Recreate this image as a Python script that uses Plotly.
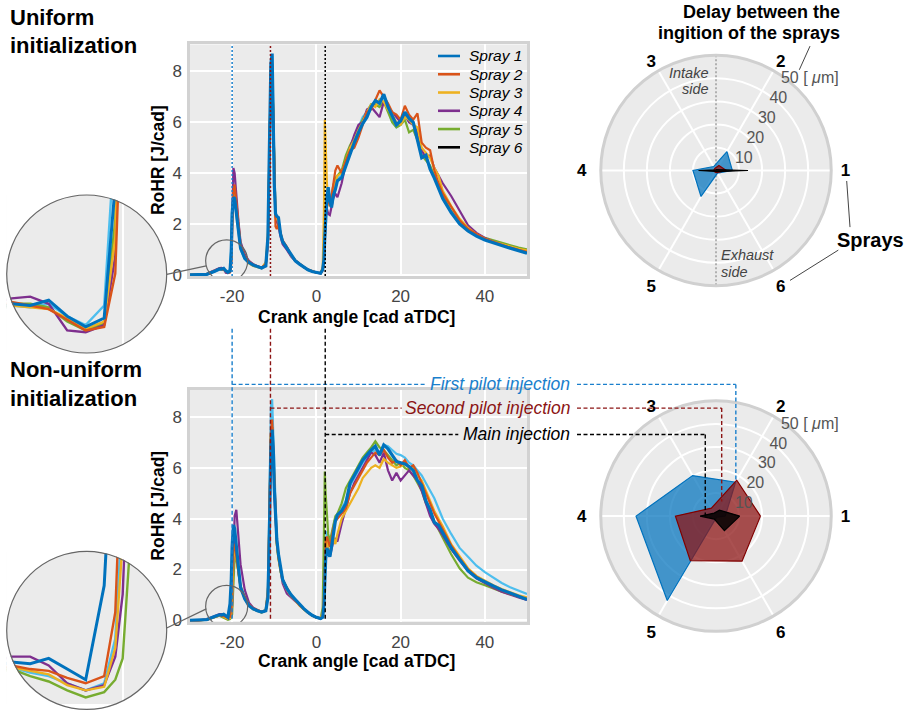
import numpy as np
import plotly.graph_objects as go

W, H = 912, 713
FONT = "Liberation Sans, Arial, Helvetica, sans-serif"

# ---------------- data ----------------
crank_angle = [
    -30, -28, -26, -24, -23, -22.5, -22, -21.5, -21, -20.5,
    -20.2, -20, -19.7, -19.4, -19, -18.5, -18, -17, -16, -15,
    -14, -13, -12, -11.5, -11.2, -11, -10.8, -10.5, -10.2, -10,
    -9.7, -9.4, -9, -8.5, -8, -7, -6, -5, -4, -3,
    -2, -1, 0, 1, 1.5, 1.8, 2, 2.2, 2.5, 2.8,
    3.2, 3.6, 4, 4.5, 5, 6, 7, 8, 9, 10,
    11, 12, 13, 14, 15, 16, 17, 18, 19, 20,
    21, 22, 23, 24, 25, 26, 27, 28, 29, 30,
    32, 34, 36, 38, 40, 42, 44, 46, 48, 50,
]

# Uniform initialization, RoHR [J/cad]
uni_spray1 = [
    0.0, 0.0, 0.02, 0.15, 0.23, 0.22, 0.25, 0.16, 0.10, 0.15,
    0.9, 2.4, 3.05, 3.0, 2.5, 1.8, 1.05, 0.65, 0.48, 0.38,
    0.32, 0.27, 0.35, 1.5, 4.5, 6.8, 8.3, 8.7, 5.2, 3.6,
    2.4, 2.3, 2.25, 1.6, 1.3, 1.05, 0.75, 0.55, 0.42, 0.3,
    0.2, 0.13, 0.08, 0.06, 0.2, 0.6, 1.5, 2.4, 3.0, 3.45,
    2.9, 2.65, 3.1, 3.35, 3.7, 3.82, 4.3, 4.7, 5.2, 5.6,
    5.95, 6.2, 6.6, 6.85, 6.75, 7.1, 6.6, 6.25, 5.9, 6.05,
    6.4, 6.15, 6.0, 5.3, 4.6, 4.7, 4.15, 3.8, 3.4, 3.0,
    2.45, 2.0, 1.72, 1.52, 1.37, 1.25, 1.15, 1.05, 0.95, 0.85,
]
uni_spray2 = [
    0.0, 0.0, 0.03, 0.17, 0.24, 0.22, 0.2, 0.14, 0.08, 0.1,
    0.4, 1.6, 3.3, 3.55, 2.9, 2.0, 1.2, 0.72, 0.52, 0.4,
    0.33, 0.28, 0.42, 1.3, 4.3, 6.8, 8.1, 8.3, 5.5, 3.3,
    1.9, 1.8, 2.0, 1.65, 1.35, 1.1, 0.78, 0.57, 0.43, 0.31,
    0.21, 0.14, 0.09, 0.07, 0.18, 0.5, 1.4, 2.6, 3.2, 3.0,
    2.7, 3.1, 3.6, 4.1, 4.3, 4.0, 4.5, 4.9, 5.0, 5.4,
    5.9, 6.4, 6.5, 6.9, 7.25, 7.0, 6.75, 6.4, 6.3, 6.1,
    6.65, 6.3, 6.1, 6.35, 5.2, 5.0, 4.9, 4.1, 3.6, 3.2,
    2.65, 2.15, 1.8, 1.6, 1.42, 1.3, 1.18, 1.07, 0.98, 0.9,
]
uni_spray3 = [
    0.0, 0.0, 0.03, 0.16, 0.22, 0.21, 0.2, 0.15, 0.09, 0.13,
    0.6, 2.0, 3.1, 3.2, 2.6, 1.9, 1.15, 0.68, 0.45, 0.35,
    0.3, 0.26, 0.5, 1.6, 4.6, 7.0, 8.0, 8.2, 5.8, 3.6,
    2.3, 2.2, 2.1, 1.6, 1.3, 1.08, 0.76, 0.56, 0.42, 0.3,
    0.2, 0.14, 0.09, 0.08, 0.3, 2.5, 6.1, 5.2, 3.6, 3.0,
    2.7, 3.0, 3.4, 3.6, 3.9, 4.0, 4.5, 5.0, 5.3, 5.7,
    6.0, 6.4, 6.7, 6.6, 6.9, 6.8, 6.5, 6.3, 6.0, 5.9,
    6.2, 6.1, 5.9, 5.8, 5.0, 4.8, 4.6, 4.2, 3.9, 3.3,
    2.7, 2.2, 1.85, 1.6, 1.42, 1.3, 1.2, 1.1, 1.02, 0.96,
]
uni_spray4 = [
    0.0, 0.0, 0.04, 0.2, 0.26, 0.27, 0.23, 0.08, 0.07, 0.11,
    0.5, 2.2, 4.2, 4.0, 3.1, 2.1, 1.3, 0.8, 0.55, 0.42,
    0.34, 0.28, 0.4, 1.2, 4.0, 6.5, 7.9, 8.1, 5.6, 3.5,
    2.3, 2.1, 1.9, 1.5, 1.2, 0.98, 0.72, 0.55, 0.42, 0.3,
    0.2, 0.13, 0.08, 0.06, 0.2, 0.6, 1.4, 2.3, 2.6, 2.4,
    2.35, 2.7, 3.0, 3.2, 3.05, 3.6, 4.4, 5.0, 5.5, 5.9,
    6.0, 6.5, 6.6, 6.4, 6.2, 6.8, 6.6, 6.4, 6.2, 6.0,
    6.3, 6.0, 5.9, 5.6, 4.9, 4.6, 4.7, 4.2, 3.9, 3.6,
    3.1, 2.55, 1.95, 1.65, 1.45, 1.3, 1.18, 1.06, 0.96, 0.88,
]
uni_spray5 = [
    0.0, 0.0, 0.03, 0.17, 0.23, 0.23, 0.21, 0.13, 0.08, 0.12,
    0.7, 2.3, 3.2, 3.1, 2.5, 1.8, 1.1, 0.7, 0.5, 0.38,
    0.31, 0.27, 0.45, 1.4, 4.2, 6.6, 8.0, 8.3, 5.7, 3.5,
    2.3, 2.2, 2.1, 1.6, 1.3, 1.05, 0.76, 0.56, 0.42, 0.3,
    0.2, 0.13, 0.08, 0.07, 0.22, 0.8, 1.8, 2.6, 3.1, 3.0,
    2.8, 3.1, 3.5, 3.8, 3.9, 4.1, 4.7, 5.1, 5.4, 5.8,
    6.1, 6.4, 6.7, 6.7, 6.6, 6.8, 6.4, 6.0, 5.8, 5.9,
    6.1, 5.6, 5.7, 5.3, 4.7, 4.5, 4.3, 3.9, 3.5, 3.1,
    2.5, 2.05, 1.78, 1.58, 1.45, 1.35, 1.25, 1.15, 1.07, 1.0,
]
uni_spray6 = [
    0.0, 0.0, 0.02, 0.14, 0.22, 0.21, 0.23, 0.16, 0.11, 0.22,
    1.2, 2.6, 3.1, 2.9, 2.4, 1.7, 1.0, 0.62, 0.46, 0.36,
    0.3, 0.26, 0.42, 1.3, 4.2, 6.7, 8.3, 8.6, 5.9, 3.7,
    2.4, 2.25, 2.2, 1.6, 1.3, 1.05, 0.75, 0.55, 0.41, 0.3,
    0.2, 0.13, 0.08, 0.06, 0.2, 0.7, 1.6, 2.5, 3.1, 3.3,
    3.0, 2.8, 3.2, 3.5, 3.8, 3.9, 4.5, 4.9, 5.4, 5.8,
    6.2, 6.4, 6.7, 6.8, 6.7, 7.0, 6.5, 6.0, 5.8, 5.9,
    6.3, 6.0, 5.9, 5.4, 4.7, 4.6, 4.2, 3.85, 3.45, 3.05,
    2.5, 2.05, 1.75, 1.55, 1.4, 1.27, 1.17, 1.07, 0.97, 0.88,
]

# Non-uniform initialization, RoHR [J/cad]
non_spray1 = [
    0.0, 0.0, 0.03, 0.16, 0.22, 0.21, 0.24, 0.18, 0.12, 0.65,
    1.6, 2.9, 3.75, 3.6, 2.8, 2.1, 1.3, 0.85, 0.58, 0.45,
    0.38, 0.33, 0.38, 0.9, 3.0, 5.2, 6.8, 7.5, 6.6, 5.2,
    4.2, 3.2, 2.6, 2.0, 1.6, 1.25, 1.0, 0.82, 0.62, 0.46,
    0.32, 0.2, 0.12, 0.07, 0.12, 0.6, 1.5, 2.4, 2.85, 2.65,
    2.5, 2.9, 3.4, 3.9, 4.15, 4.3, 4.6, 5.4, 5.7, 6.0,
    6.3, 6.5, 6.7, 6.85, 6.5, 6.9, 6.75, 6.5, 6.25, 6.2,
    6.15, 6.05, 5.9, 5.5, 5.3, 4.7, 4.35, 3.85, 3.75, 3.45,
    2.85, 2.4, 1.95, 1.68, 1.5, 1.35, 1.2, 1.07, 0.93, 0.82,
]
non_spray2 = [
    0.0, 0.0, 0.03, 0.15, 0.2, 0.18, 0.17, 0.13, 0.1, 0.14,
    0.5, 1.6, 2.9, 3.0, 2.5, 1.9, 1.3, 0.9, 0.62, 0.48,
    0.4, 0.34, 0.4, 1.1, 3.5, 5.8, 7.4, 7.9, 6.6, 5.0,
    4.0, 3.1, 2.5, 1.95, 1.6, 1.25, 0.98, 0.8, 0.6, 0.45,
    0.31, 0.2, 0.12, 0.08, 0.14, 0.8, 2.0, 3.1, 3.3, 3.1,
    2.9, 3.2, 3.6, 3.9, 4.0, 4.2, 4.4, 5.0, 5.3, 5.6,
    5.9, 6.2, 6.4, 6.6, 6.5, 6.7, 6.4, 6.2, 6.3, 6.1,
    6.3, 6.0, 6.1, 5.8, 5.4, 5.0, 4.6, 4.2, 3.9, 3.6,
    2.95, 2.45, 2.0, 1.72, 1.5, 1.32, 1.17, 1.04, 0.93, 0.84,
]
non_spray3 = [
    0.0, 0.0, 0.02, 0.14, 0.19, 0.17, 0.15, 0.09, 0.06, 0.08,
    0.3, 0.9, 2.4, 2.9, 2.5, 1.9, 1.35, 0.9, 0.6, 0.45,
    0.37, 0.32, 0.42, 1.2, 3.8, 6.0, 7.3, 7.6, 6.4, 4.9,
    3.9, 3.0, 2.4, 1.9, 1.55, 1.2, 0.95, 0.78, 0.58, 0.43,
    0.3, 0.19, 0.11, 0.08, 0.3, 1.2, 2.2, 2.8, 3.2, 2.9,
    2.6, 2.9, 3.3, 3.0, 3.4, 4.0, 4.3, 4.6, 4.9, 5.2,
    5.6, 5.8, 6.0, 6.1, 6.0, 6.35, 6.2, 6.1, 6.0, 6.05,
    6.2, 6.0, 6.0, 5.7, 5.5, 5.1, 4.7, 4.3, 4.0, 3.7,
    3.0, 2.5, 2.05, 1.75, 1.55, 1.38, 1.23, 1.1, 0.99, 0.9,
]
non_spray4 = [
    0.0, 0.0, 0.04, 0.19, 0.25, 0.25, 0.2, 0.1, 0.06, 0.09,
    0.25, 0.6, 2.2, 4.1, 4.35, 3.3, 2.2, 1.2, 0.7, 0.5,
    0.4, 0.34, 0.38, 1.0, 3.3, 5.6, 7.1, 7.6, 6.5, 5.0,
    4.0, 3.1, 2.5, 1.9, 1.45, 1.05, 0.9, 0.76, 0.58, 0.44,
    0.3, 0.19, 0.11, 0.07, 0.15, 0.8, 1.8, 2.6, 2.9, 2.7,
    2.5, 2.8, 3.1, 3.2, 3.1, 3.8, 4.4, 5.0, 5.4, 5.7,
    6.0, 6.3, 6.6, 6.5, 6.2, 6.6, 5.9, 5.5, 5.8, 5.5,
    5.7, 5.9, 5.7, 5.5, 5.1, 4.6, 4.1, 3.8, 3.6, 3.35,
    2.8, 2.35, 1.95, 1.65, 1.45, 1.28, 1.13, 1.0, 0.9, 0.8,
]
non_spray5 = [
    0.0, 0.0, 0.03, 0.13, 0.18, 0.14, 0.11, 0.06, 0.02, 0.05,
    0.12, 0.24, 1.2, 2.5, 2.4, 1.8, 1.3, 0.85, 0.58, 0.44,
    0.36, 0.31, 0.38, 1.0, 3.4, 5.7, 7.2, 7.6, 6.4, 5.0,
    3.9, 3.0, 2.45, 1.9, 1.6, 1.3, 1.0, 0.8, 0.6, 0.44,
    0.3, 0.19, 0.11, 0.08, 0.5, 3.5, 5.85, 5.0, 4.0, 3.4,
    3.1, 3.4, 3.8, 4.1, 4.2, 4.6, 5.2, 5.5, 5.8, 6.1,
    6.4, 6.6, 6.8, 7.05, 6.8, 6.7, 6.5, 6.3, 6.1, 6.2,
    6.0, 5.9, 5.7, 5.4, 5.1, 4.6, 4.3, 3.9, 3.6, 3.25,
    2.6, 2.05, 1.68, 1.5, 1.38, 1.25, 1.13, 1.03, 0.93, 0.86,
]
non_spray6 = [
    0.0, 0.0, 0.03, 0.14, 0.19, 0.16, 0.14, 0.1, 0.06, 0.1,
    0.35, 1.1, 2.6, 3.1, 2.6, 1.95, 1.35, 0.9, 0.62, 0.47,
    0.39, 0.33, 0.42, 1.3, 4.3, 7.0, 8.4, 8.7, 7.2, 5.4,
    4.2, 3.2, 2.6, 2.0, 1.62, 1.27, 1.0, 0.82, 0.62, 0.46,
    0.32, 0.2, 0.12, 0.08, 0.2, 1.0, 2.0, 2.9, 3.5, 3.3,
    3.0, 3.3, 3.7, 4.0, 4.2, 4.4, 4.7, 5.3, 5.6, 5.9,
    6.2, 6.4, 6.6, 6.7, 6.6, 6.9, 6.85, 6.7, 6.55, 6.5,
    6.4, 6.2, 6.1, 5.9, 5.7, 5.4, 5.1, 4.8, 4.4, 4.0,
    3.4, 2.85, 2.5, 2.15, 1.9, 1.67, 1.47, 1.3, 1.17, 1.04,
]

spray_names = ["Spray 1", "Spray 2", "Spray 3", "Spray 4", "Spray 5", "Spray 6"]
line_colors = ["#0072BD", "#D95319", "#EDB120", "#7E2F8E", "#77AC30", "#4DBEEE"]
legend_colors = ["#0072BD", "#D95319", "#EDB120", "#7E2F8E", "#77AC30", "#000000"]

x_tick_vals = [-20, 0, 20, 40]
x_tick_text = ["-20", "0", "20", "40"]
y_tick_vals = [0, 2, 4, 6, 8]

# Delay between the ignition of the sprays [um]
spray_labels = ["1", "2", "3", "4", "5", "6"]
spray_theta = [0, 60, 120, 180, 240, 300]
radial_ticks = [10, 20, 30, 40, 50]
radial_ticktext = ["10", "20", "30", "40", "50 [ <i>\u03bc</i>m]"]

uni_delay_first = [7.1, 9.5, 2.0, 10.0, 13.0, 1.3]
uni_delay_second = [4.5, 2.5, 1.0, 1.0, 0.8, 1.0]
uni_delay_main = [13.9, 0.5, 0.3, 7.6, 0.5, 0.6]
non_delay_first = [4.0, 17.0, 20.3, 34.7, 42.3, 0.5]
non_delay_second = [19.3, 18.0, 4.0, 17.6, 22.3, 22.6]
non_delay_main = [10.3, 3.0, 1.5, 6.9, 1.5, 7.3]

injection_names = ["First pilot injection", "Second pilot injection", "Main injection"]
injection_cad = [-20.0, -10.9, 2.1]
injection_colors = ["#1a7fcc", "#8c1414", "#000000"]
injection_fill = ["rgba(0,114,189,0.72)", "rgba(140,20,20,0.74)", "rgba(0,0,0,0.85)"]
injection_edge = ["#0072BD", "#800000", "#000000"]
connector_target_r = [17.0, 6.8, 4.6]
connector_target_theta = [60, 69, 180]

# ---------------- geometry (layout, px) ----------------
def fx(p):
    return p / W


def fy(p):
    return 1 - p / H


PLOT_L, PLOT_R = 190, 527
TOP_T, TOP_B = 45, 279.6
BOT_T, BOT_B = 395, 629.6
X_RANGE = [-30, 50]
Y_RANGE = [-0.05, 9.06]


def cad_px(c):
    return PLOT_L + (c - X_RANGE[0]) / (X_RANGE[1] - X_RANGE[0]) * (PLOT_R - PLOT_L)


def val_py(v, top, bot):
    return bot - (v - Y_RANGE[0]) / (Y_RANGE[1] - Y_RANGE[0]) * (bot - top)


POL_CX, POL_R = 716, 116.7
TOP_CY, BOT_CY = 172.7, 522.7
R_MAX = 50


def polar_px(r, th, cy):
    a = np.deg2rad(th)
    return POL_CX + r / R_MAX * POL_R * np.cos(a), cy - r / R_MAX * POL_R * np.sin(a)


INS_CX, INS_R = 86.7, 80
TOP_INS_CY, BOT_INS_CY = 277.5, 638.5
INSET_X_RANGE = [-23.135, -18.81]
TOP_INSET_Y_RANGE = [-0.047, 0.842]
BOT_INSET_Y_RANGE = [-0.0167, 0.842]

fig = go.Figure()

uni = [uni_spray1, uni_spray2, uni_spray3, uni_spray4, uni_spray5, uni_spray6]
non = [non_spray1, non_spray2, non_spray3, non_spray4, non_spray5, non_spray6]
order = [5, 4, 3, 2, 1, 0]
for series, xa, ya, w0, w in [(uni, "x", "y", 3.2, 2.2), (non, "x2", "y2", 3.2, 2.2),
                              (uni, "x3", "y3", 3.0, 2.4), (non, "x4", "y4", 3.0, 2.4)]:
    for i in order:
        fig.add_trace(go.Scatter(
            x=crank_angle, y=series[i], xaxis=xa, yaxis=ya, mode="lines",
            line=dict(color=line_colors[i], width=w0 if i == 0 else w),
            name=spray_names[i], showlegend=False, hoverinfo="skip"))

# polar charts
theta_closed = spray_theta + [spray_theta[0]]
fig.add_trace(go.Scatterpolar(r=[R_MAX, 0, R_MAX], theta=[90, 0, 270], subplot="polar",
                              mode="lines", line=dict(color="#888888", width=1.2, dash="2px,2px"),
                              showlegend=False, hoverinfo="skip"))
for sub, sets in [("polar", [uni_delay_first, uni_delay_second, uni_delay_main]),
                  ("polar2", [non_delay_first, non_delay_second, non_delay_main])]:
    for k, vals in enumerate(sets):
        fig.add_trace(go.Scatterpolar(
            r=vals + [vals[0]], theta=theta_closed, subplot=sub, mode="lines",
            fill="toself", fillcolor=injection_fill[k],
            line=dict(color=injection_edge[k], width=1.2),
            name=injection_names[k], showlegend=False, hoverinfo="skip"))

tick_font = dict(family=FONT, size=17, color="#444444")
axis_common = dict(range=X_RANGE, tickmode="array", tickvals=x_tick_vals, ticktext=x_tick_text,
                   showgrid=True, gridcolor="white", gridwidth=2, zeroline=False,
                   showline=True, mirror=True, linecolor="#d2d2d2", linewidth=2.5,
                   ticks="outside", ticklen=3, tickcolor="rgba(0,0,0,0)", tickfont=tick_font)
yaxis_common = dict(range=Y_RANGE, tickmode="array", tickvals=y_tick_vals,
                    showgrid=True, gridcolor="white", gridwidth=2, zeroline=False,
                    showline=True, mirror=True, linecolor="#d2d2d2", linewidth=2.5,
                    ticks="outside", ticklen=2, tickcolor="rgba(0,0,0,0)", tickfont=tick_font)
inset_x = dict(range=INSET_X_RANGE, tickmode="array", tickvals=[-20], showticklabels=False,
               showgrid=True, gridcolor="white", gridwidth=2, zeroline=False, showline=False, ticks="")
inset_y = dict(showticklabels=False, showgrid=False, zeroline=False, showline=False, ticks="")

NB = "\u00a0"
angular_text = ["<b>%s%s</b>" % (NB, spray_labels[0]), "<b>%s</b>" % spray_labels[1],
                "<b>%s</b>" % spray_labels[2], "<b>%s%s</b>" % (spray_labels[3], NB * 2),
                "<b>%s</b>" % spray_labels[4], "<b>%s</b>" % spray_labels[5]]


def polar_layout(cy):
    return dict(
        domain=dict(x=[fx(POL_CX - POL_R), fx(POL_CX + POL_R)], y=[fy(cy + POL_R), fy(cy - POL_R)]),
        bgcolor="#ebebeb",
        angularaxis=dict(rotation=0, direction="counterclockwise", tickmode="array",
                         tickvals=spray_theta, ticktext=angular_text,
                         showgrid=True, gridcolor="white", gridwidth=2,
                         showline=True, linecolor="#d0d0d0", linewidth=3, ticks="",
                         tickfont=dict(family=FONT, size=17, color="black")),
        radialaxis=dict(range=[0, R_MAX], tickmode="array", tickvals=radial_ticks,
                        ticktext=radial_ticktext, angle=60, tickangle=60, showline=False,
                        showgrid=True, gridcolor="white", gridwidth=2, ticks="",
                        tickfont=dict(family=FONT, size=16, color="#555555")),
    )


fig.update_layout(
    width=W, height=H, margin=dict(l=0, r=0, t=0, b=0),
    paper_bgcolor="white", plot_bgcolor="#ebebeb", showlegend=False, hovermode=False,
    font=dict(family=FONT),
    xaxis=dict(domain=[fx(PLOT_L), fx(PLOT_R)], anchor="y", **axis_common),
    yaxis=dict(domain=[fy(TOP_B), fy(TOP_T)], anchor="x", **yaxis_common),
    xaxis2=dict(domain=[fx(PLOT_L), fx(PLOT_R)], anchor="y2", **axis_common),
    yaxis2=dict(domain=[fy(BOT_B), fy(BOT_T)], anchor="x2", **yaxis_common),
    xaxis3=dict(domain=[fx(INS_CX - INS_R), fx(INS_CX + INS_R)], anchor="y3", **inset_x),
    yaxis3=dict(domain=[fy(TOP_INS_CY + INS_R), fy(TOP_INS_CY - INS_R)], anchor="x3",
                range=TOP_INSET_Y_RANGE, **inset_y),
    xaxis4=dict(domain=[fx(INS_CX - INS_R), fx(INS_CX + INS_R)], anchor="y4", **inset_x),
    yaxis4=dict(domain=[0, fy(BOT_INS_CY - INS_R)], anchor="x4",
                range=BOT_INSET_Y_RANGE, **inset_y),
    polar=polar_layout(TOP_CY),
    polar2=polar_layout(BOT_CY),
)

shapes = []
annotations = []
GRAY = "#555555"


def pline(x0, y0, x1, y1, color=GRAY, width=1, dash=None):
    d = dict(color=color, width=width)
    if dash:
        d["dash"] = dash
    shapes.append(dict(type="line", xref="paper", yref="paper", x0=fx(x0), y0=fy(y0),
                       x1=fx(x1), y1=fy(y1), line=d, layer="above"))


def text(x, y, s, size, color="black", xanchor="center", align="center"):
    annotations.append(dict(x=fx(x), y=fy(y), xref="paper", yref="paper", text=s, showarrow=False,
                            xanchor=xanchor, yanchor="middle", align=align,
                            font=dict(family=FONT, size=size, color=color)))


# injection markers in the top plot (dotted)
for c, col in zip(injection_cad, injection_colors):
    shapes.append(dict(type="line", xref="x", yref="y domain", x0=c, x1=c, y0=0, y1=1,
                       line=dict(color=col, width=1.5, dash="2px,2px"), layer="above"))

# connectors towards the bottom polar chart (dashed)
conn_y = [389.3, 413.3, 440.0]
text_left = [426.7, 401.7, 458.3]
TEXT_RIGHT = 572
for k, c in enumerate(injection_cad):
    xv = cad_px(c)
    col = injection_colors[k]
    dash = "4px,2.5px"
    pline(xv, 333, xv, val_py(0, BOT_T, BOT_B), col, 1.4, dash)
    tx, ty = polar_px(connector_target_r[k], connector_target_theta[k], BOT_CY)
    pline(xv, conn_y[k], text_left[k], conn_y[k], col, 1.4, dash)
    pline(TEXT_RIGHT + 5, conn_y[k], tx, conn_y[k], col, 1.4, dash)
    pline(tx, conn_y[k], tx, ty, col, 1.4, dash)
    text(TEXT_RIGHT, conn_y[k], "<i>%s</i>" % injection_names[k], 17.5, col, xanchor="right")

# zoom circles in main plots
for xa, ya in [("x", "y"), ("x2", "y2")]:
    shapes.append(dict(type="circle", xref=xa, yref=ya, xsizemode="pixel", ysizemode="pixel",
                       xanchor=-21.3, yanchor=0.55, x0=-21, x1=21, y0=-21, y1=21,
                       line=dict(color="#666666", width=1.2), layer="above"))


def mask_path(cx, cy, r, y_top, y_bot):
    x0, x1 = cx - r, cx + r
    parts = ["M%.5f,%.5f" % (fx(x0), fy(y_top)), "L%.5f,%.5f" % (fx(x1), fy(y_top)),
             "L%.5f,%.5f" % (fx(x1), fy(y_bot)), "L%.5f,%.5f" % (fx(x0), fy(y_bot)), "Z"]
    for k, a in enumerate(np.linspace(0, 2 * np.pi, 121)):
        parts.append("%s%.5f,%.5f" % ("M" if k == 0 else "L",
                                      fx(cx + r * np.cos(a)), fy(cy + r * np.sin(a))))
    parts.append("Z")
    return " ".join(parts)


for cy, ybot in [(TOP_INS_CY, TOP_INS_CY + INS_R), (BOT_INS_CY, H)]:
    shapes.append(dict(type="path", xref="paper", yref="paper",
                       path=mask_path(INS_CX, cy, INS_R + 0.5, cy - INS_R - 1, ybot + 1),
                       fillcolor="white", fillrule="evenodd", line=dict(width=0), layer="above"))
    shapes.append(dict(type="circle", xref="paper", yref="paper",
                       x0=fx(INS_CX - INS_R), x1=fx(INS_CX + INS_R),
                       y0=fy(cy + INS_R), y1=fy(cy - INS_R),
                       line=dict(color="#666666", width=1.2), layer="above"))

pline(INS_CX + INS_R, 277.8, 206.3, 269.3, "#666666", 1.2)
pline(INS_CX + INS_R, 636.0, 206.3, 616.7, "#666666", 1.2)

# legend (top plot)
for i, name in enumerate(spray_names):
    yy = 56.7 + 18.5 * i
    pline(438, yy, 460, yy, legend_colors[i], 2.6)
    text(466.7, yy, "<i>%s</i>" % name, 15.5, "black", xanchor="left")

# axis titles
for (t, b) in [(TOP_T, TOP_B), (BOT_T, BOT_B)]:
    annotations.append(dict(x=fx(158), y=fy((t + val_py(0, t, b)) / 2 + 0.5), xref="paper", yref="paper",
                            text="<b>RoHR [J/cad]</b>", showarrow=False, textangle=-90,
                            xanchor="center", yanchor="middle",
                            font=dict(family=FONT, size=17.5, color="black")))
text(356.7, 321.5, "<b>Crank angle [cad aTDC]</b>", 17.5)
text(356.7, 669.5, "<b>Crank angle [cad aTDC]</b>", 17.5)

# section titles
text(8, 17.4, "<b>Uniform</b>", 22, xanchor="left")
text(8, 45.9, "<b>initialization</b>", 22, xanchor="left")
text(8, 374.2, "<b>Non-uniform</b>", 22, xanchor="left")
text(8, 404.0, "<b>initialization</b>", 22, xanchor="left")

# polar notes
text(841.7, 11.7, "<b>Delay between the</b>", 18, xanchor="right")
text(841.7, 33.3, "<b>ingition of the sprays</b>", 18, xanchor="right")
pline(810, 46.7, 799.3, 70.7, "#444444", 1)
text(870.8, 243.3, "<b>Sprays</b>", 20)
pline(850, 230, 846.7, 183.3, "#444444", 1)
pline(838.3, 253.3, 790, 284, "#444444", 1)
text(711, 73.5, "<i>Intake</i>", 14.5, "#444444", xanchor="right")
text(711, 90, "<i>side</i>", 14.5, "#444444", xanchor="right")
text(719, 258, "<i>Exhaust</i>", 14.5, "#444444", xanchor="left")
text(719, 275, "<i>side</i>", 14.5, "#444444", xanchor="left")

fig.update_layout(shapes=shapes, annotations=annotations)
fig.write_html("out.html", config={"displayModeBar": False},
               post_script="document.body.style.margin='0';")
